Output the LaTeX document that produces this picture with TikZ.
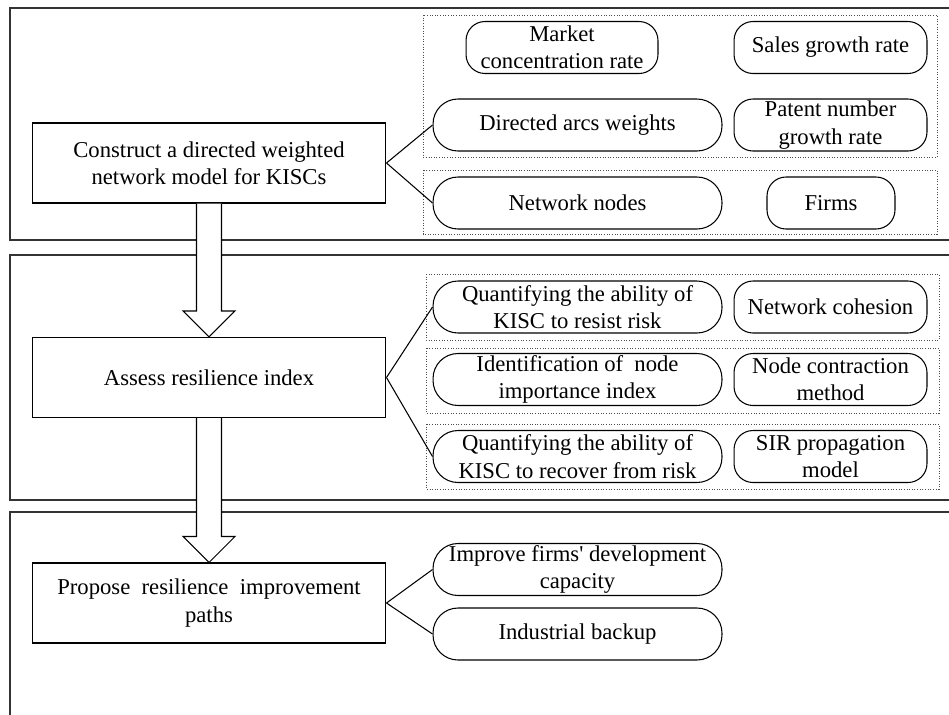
\documentclass[tikz,border=0pt]{standalone}
\usepackage{fontspec}
\setmainfont{Liberation Serif}
\usetikzlibrary{positioning}
\usetikzlibrary{calc}

\begin{document}
\begin{tikzpicture}[
    x=0.02cm, y=-0.02cm,
    font=\fontsize{12.9}{15.6}\selectfont
]
\tikzset{
    panel/.style = {draw=black!80, line width=0.75pt},
    group/.style = {draw=black!70, densely dotted, line width=0.5pt},
    mainbox/.style = {rectangle, draw=black, line width=0.6pt, align=center, minimum width=7.08cm, minimum height=1.6cm, inner sep=1pt},
    pill/.style = {rectangle, rounded corners=0.5cm, draw=black, line width=0.6pt, align=center, minimum width=5.78cm, minimum height=1.04cm, inner sep=0pt},
    roundbox/.style = {rectangle, rounded corners=0.38cm, draw=black, line width=0.6pt, align=center, minimum width=3.86cm, minimum height=1.04cm, inner sep=0pt},
    link/.style = {-, line width=0.6pt},
    blockarrow/.style = {draw=black, fill=white, line width=0.6pt, line join=miter}
}
\useasboundingbox (0,0) rectangle (949,714);
\clip (0,0) rectangle (949,714);

% stages
\draw[panel] (10,8) rectangle (970,240);
\draw[panel] (10,255) rectangle (970,500);
\draw[panel] (10,512) rectangle (970,740);

% dotted groups
\draw[group] (423,15) rectangle (937,157);
\draw[group] (423,170) rectangle (937,234);
\draw[group] (426,274) rectangle (939,340);
\draw[group] (426,348) rectangle (939,413);
\draw[group] (426,424) rectangle (939,489);

% main steps
\node[mainbox] at (209,163) (cons) {Construct a directed weighted\\network model for KISCs};
\node[mainbox] at (209,377.5) (assess) {Assess resilience index};
\node[mainbox] at (209,603) (propose) {Propose~ resilience~ improvement\\paths};

% step 1
\node[roundbox, minimum width=3.84cm] at (562,47.5) (market) {Market\\concentration rate};
\node[roundbox] at (830.5,47.5) (sales) {Sales growth rate};
\node[pill] at (577.5,125) (arcs) {Directed arcs weights};
\node[roundbox] at (830.5,125) (patent) {Patent number\\growth rate};
\node[pill] at (577.5,203) (netnodes) {Network nodes};
\node[roundbox, minimum width=2.56cm] at (831,203) (firms) {Firms};

% step 2
\node[pill] at (577.5,307) (resist) {Quantifying the ability of\\KISC to resist risk};
\node[roundbox] at (830.5,307) (cohesion) {Network cohesion};
\node[pill] at (577.5,379.5) (importance) {Identification of~ node\\importance index};
\node[roundbox] at (830.5,379.5) (contraction) {Node contraction\\method};
\node[pill] at (577.5,456.5) (recover) {Quantifying the ability of\\KISC to recover from risk};
\node[roundbox] at (830.5,456.5) (sir) {SIR propagation\\model};

% step 3
\node[pill] at (577.5,569.5) (improve) {Improve firms\textquotesingle\ development\\capacity};
\node[pill] at (577.5,634) (backup) {Industrial backup};

% links
\draw[link] (cons.east) -- (arcs.west);
\draw[link] (cons.east) -- (netnodes.west);
\draw[link] (assess.east) -- (resist.west);
\draw[link] (assess.east) -- (recover.west);
\draw[link] (propose.east) -- (improve.west);
\draw[link] (propose.east) -- (backup.west);

% block arrows
\draw[blockarrow] ($(cons.south)+(-12.5,0)$) -- ($(assess.north)+(-12.5,-26)$) -- ($(assess.north)+(-26,-26)$) -- (assess.north) -- ($(assess.north)+(26,-26)$) -- ($(assess.north)+(12.5,-26)$) -- ($(cons.south)+(12.5,0)$);
\draw[blockarrow] ($(assess.south)+(-12.5,0)$) -- ($(propose.north)+(-12.5,-26)$) -- ($(propose.north)+(-26,-26)$) -- (propose.north) -- ($(propose.north)+(26,-26)$) -- ($(propose.north)+(12.5,-26)$) -- ($(assess.south)+(12.5,0)$);
\end{tikzpicture}
\end{document}
